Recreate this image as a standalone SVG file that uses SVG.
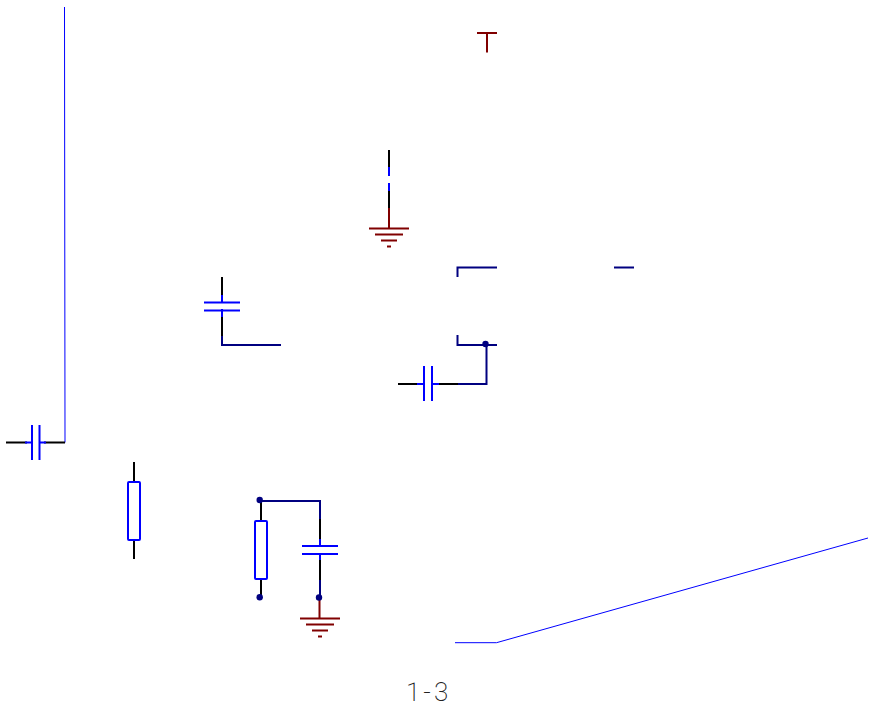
<svg xmlns="http://www.w3.org/2000/svg" width="869" height="707" viewBox="0 0 869 707">
<style>
.w{fill:none;stroke-width:2;stroke-linecap:square}
.k{stroke:#000}.b{stroke:#00f}.n{stroke:#000080}.r{stroke:#800000}
.t{stroke:#00f;stroke-width:1;fill:none}
.d{fill:#000080}
text{font-family:Roboto,"Noto Sans",sans-serif;font-weight:200;font-size:26px;letter-spacing:3px;fill:#222}
</style>
<rect width="869" height="707" fill="#fff"/>
<g id="connectors">
<path class="t" d="M64.500 7L65 442.500"/>
<path class="t" d="M455 642.700H496.500L868 538"/>
<path class="w n" d="M457.500 276V267.500H496"/>
<path class="w n" d="M615 267.500H633"/>
<path class="w n" d="M457.500 336V345H496M486.500 345V384H457"/>
<path class="w n" d="M222 335V345H280"/>
<path class="w n" d="M260 501H320V520M320 579V598"/>
</g>
<g id="vcc"><path class="w r" d="M478 33H496M487 33V51.500"/></g>
<g id="gnd1">
<path class="w k" d="M389 151V168M389 190V209"/>
<path class="w b" d="M389 168V175M389 184V190"/>
<path class="w r" d="M389 209V228M370 228.500H408M376 234.500H402M382 240.500H396M388 246.500H390"/>
</g>
<g id="c1">
<path class="w k" d="M222 278V296M222 316V335"/>
<path class="w b" d="M222 296V302M222 310V316M205 302.500H239M205 310.500H239"/>
</g>
<g id="c2">
<path class="w k" d="M399 384H418M438 384H457"/>
<path class="w b" d="M418 384H424M432 384H438M424 367V400M432 367V400"/>
</g>
<g id="c3">
<path class="w k" d="M7 442.500H26M45 442.500H64"/>
<path class="w b" d="M26 442.500H32M40 442.500H45M32 426V459M39.500 426V459"/>
</g>
<g id="c4">
<path class="w k" d="M320 520V540M320 559V579"/>
<path class="w b" d="M320 540V546M320 554V559M303 546H337M303 554H337"/>
</g>
<g id="r1">
<path class="w k" d="M134 463V481M134 541V558"/>
<rect x="128" y="482" width="12" height="58" rx="1" fill="#fff" stroke="#00f" stroke-width="2"/>
</g>
<g id="r2">
<path class="w k" d="M261 502V520M261 580V597"/>
<rect x="255" y="521" width="12" height="58" rx="1" fill="#fff" stroke="#00f" stroke-width="2"/>
</g>
<g id="gnd2"><path class="w r" d="M319.500 599V618M301 618.500H339M307 624.500H333M313 630.500H327M319 636.500H321"/></g>
<g id="junctions">
<circle class="d" cx="485.500" cy="344" r="3.200"/>
<circle class="d" cx="259.700" cy="500" r="3.200"/>
<circle class="d" cx="259.700" cy="597.300" r="3.200"/>
<circle class="d" cx="319" cy="597.500" r="3.200"/>
</g>
<g id="label"><text x="406" y="700.500">1-3</text></g>
</svg>
